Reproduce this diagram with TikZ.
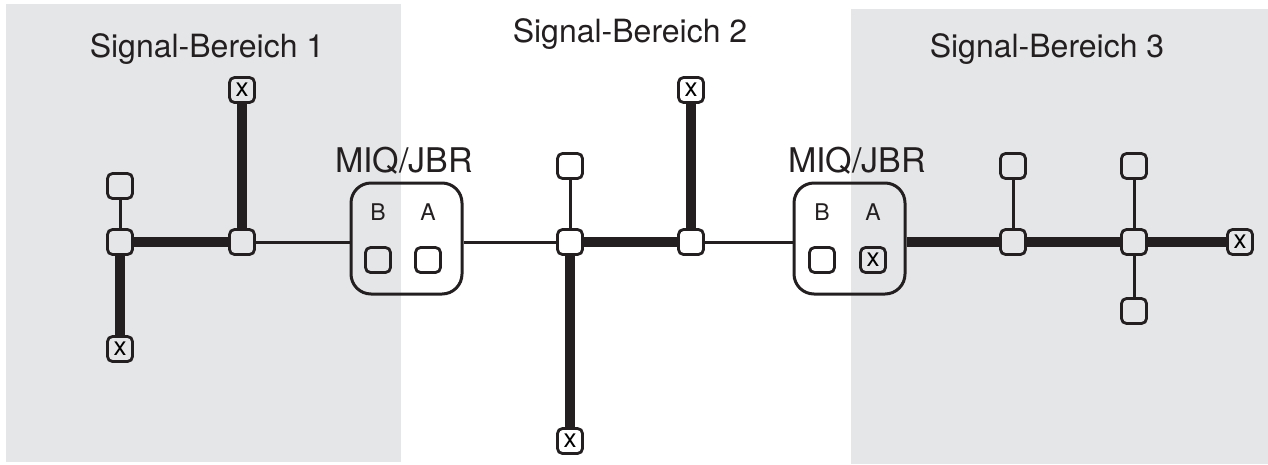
\documentclass[tikz,border=0pt]{standalone}
\usepackage{fontspec}
\setmainfont{TeX Gyre Heros}
\definecolor{zone}{RGB}{229,230,232}
\definecolor{ink}{RGB}{35,31,32}
\begin{document}
\begin{tikzpicture}[x=1pt,y=-1pt,
  sq/.style={draw=ink,line width=2.8pt,rounded corners=5pt,minimum size=25pt,inner sep=0pt,font=\fontsize{26}{26}\selectfont},
  bigbox/.style={draw=ink,line width=3pt,rounded corners=20pt,minimum width=111pt,minimum height=111pt,inner sep=0pt},
  title/.style={anchor=base,inner sep=0pt,text=ink,font=\fontsize{32}{32}\selectfont},
  miq/.style={anchor=base,inner sep=0pt,text=ink,font=\fontsize{34}{34}\selectfont},
  lbl/.style={anchor=base,inner sep=0pt,text=ink,font=\fontsize{23}{23}\selectfont},
  thin/.style={draw=ink,line width=3pt},
  thick/.style={draw=ink,line width=10pt}]
\useasboundingbox (0,0) rectangle (1268,464);
% zones
\fill[zone] (6,4) rectangle (401,462);
\fill[zone] (851,9) rectangle (1268,464);
% titles
\node[title] (t1) at (207,57) {Signal-Bereich 1};
\node[title] (t2) at (630,42) {Signal-Bereich 2};
\node[title] (t3) at (1047,57) {Signal-Bereich 3};
\node[miq] (m1) at (404,172) {MIQ/JBR};
\node[miq] (m2) at (857,172) {MIQ/JBR};
% big boxes
\node[bigbox] (L) at (406.5,238.5) {};
\node[bigbox] (R) at (849.5,238.5) {};
\node[lbl] (LB) at (378,220) {B};
\node[lbl] (LA) at (428,220) {A};
\node[lbl] (RB) at (822,220) {B};
\node[lbl] (RA) at (873,220) {A};
\node[sq] (LBs) at (378,260) {};
\node[sq] (LAs) at (428,260) {};
\node[sq] (RBs) at (822,260) {};
\node[sq] (RAs) at (873,260) {x};
% area 1
\node[sq] (a1) at (120,186) {};
\node[sq] (a2) at (120,242) {};
\node[sq] (a3) at (120,349) {x};
\node[sq] (a4) at (242,242) {};
\node[sq] (a5) at (242,90) {x};
% area 2
\node[sq] (b1) at (570,166) {};
\node[sq] (b2) at (570,242) {};
\node[sq] (b3) at (570,441) {x};
\node[sq] (b4) at (691,242) {};
\node[sq] (b5) at (691,90) {x};
% area 3
\node[sq] (c1) at (1013,166) {};
\node[sq] (c2) at (1013,242) {};
\node[sq] (c3) at (1134,166) {};
\node[sq] (c4) at (1134,242) {};
\node[sq] (c5) at (1134,311) {};
\node[sq] (c6) at (1240,242) {x};
% connectors
\draw[thin] (a1) -- (a2);
\draw[thick] (a2) -- (a3);
\draw[thick] (a2) -- (a4);
\draw[thick] (a4) -- (a5);
\draw[thin] (a4) -- (a4 -| L.west);
\draw[thin] (b2 -| L.east) -- (b2);
\draw[thin] (b1) -- (b2);
\draw[thick] (b2) -- (b3);
\draw[thick] (b2) -- (b4);
\draw[thick] (b4) -- (b5);
\draw[thin] (b4) -- (b4 -| R.west);
\draw[thick] (c2 -| R.east) -- (c2);
\draw[thin] (c1) -- (c2);
\draw[thick] (c2) -- (c4);
\draw[thin] (c3) -- (c4);
\draw[thin] (c4) -- (c5);
\draw[thick] (c4) -- (c6);
\end{tikzpicture}
\end{document}
